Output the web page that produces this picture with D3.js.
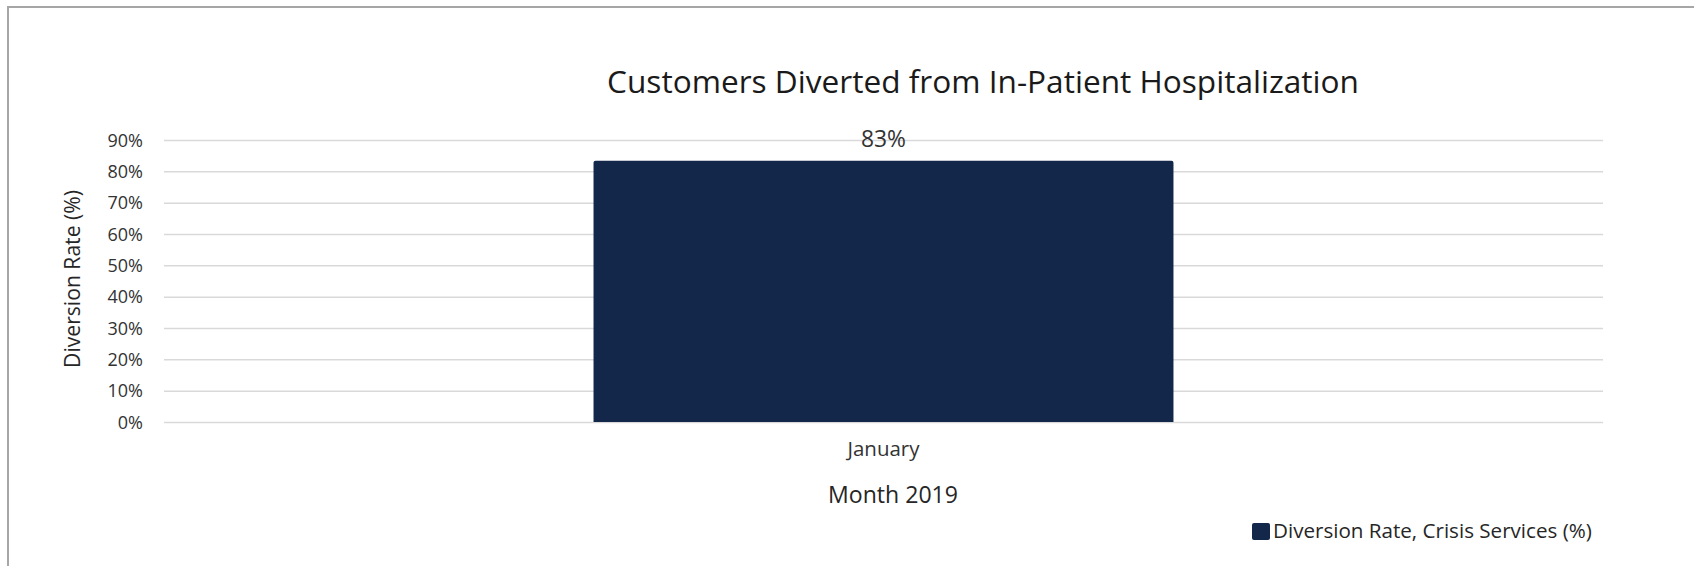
<!DOCTYPE html>
<html>
<head>
<meta charset="utf-8">
<script src="https://cdn.jsdelivr.net/npm/d3@7"></script>
<style>
  html, body { margin: 0; padding: 0; background: #fff; }
  svg text { font-family: "Open Sans", "Noto Sans", sans-serif; }
</style>
</head>
<body>
<div id="chart"></div>
<script>
/* ---------- Data ---------- */
const months = ["January"];
const diversionRate = [0.834];
const yTicks = [0, 0.1, 0.2, 0.3, 0.4, 0.5, 0.6, 0.7, 0.8, 0.9];
const seriesName = "Diversion Rate, Crisis Services (%)";

/* ---------- Layout ---------- */
const W = 1694, H = 566;
const plot = { left: 164, right: 1603, top: 140, bottom: 422 };
const barColor = "#13274a";

const svg = d3.select("#chart").append("svg")
  .attr("width", W)
  .attr("height", H);

// frame
svg.append("rect")
  .attr("x", 8).attr("y", 7)
  .attr("width", W + 20).attr("height", H + 20)
  .attr("fill", "#fff")
  .attr("stroke", "#a6a6a6")
  .attr("stroke-width", 2);

// shrink/grow a text so it spans a measured width
function fitWidth(sel, target) {
  const cur = sel.node().getComputedTextLength();
  const fs = parseFloat(sel.style("font-size"));
  sel.style("font-size", (fs * target / cur) + "px");
}

const x = d3.scaleBand()
  .domain(months)
  .range([plot.left, plot.right])
  .padding(0.4255);

const y = d3.scaleLinear()
  .domain([0, 0.9])
  .range([plot.bottom, plot.top]);

// Grid Lines + Y Axis labels
const yAxis = svg.append("g")
  .attr("transform", `translate(${plot.left},0)`)
  .call(d3.axisLeft(y)
    .tickValues(yTicks)
    .tickSize(-(plot.right - plot.left))
    .tickPadding(21)
    .tickFormat(d3.format(".0%")))
  .call(g => g.select(".domain").remove());

yAxis.selectAll(".tick line")
  .attr("stroke", "#d9d9d9")
  .attr("stroke-width", 1.5);

yAxis.selectAll(".tick text")
  .attr("fill", "#333")
  .style("font-size", "18px")
  .attr("dy", "0.34em");

// Bars
svg.selectAll(".bar")
  .data(months)
  .enter().append("path")
  .attr("class", "bar")
  .attr("fill", barColor)
  .attr("d", (d, i) => {
    const x0 = x(d), x1 = x(d) + x.bandwidth();
    const yt = y(diversionRate[i]), yb = y(0);
    const r = 2;
    return `M${x0},${yb}V${yt + r}Q${x0},${yt} ${x0 + r},${yt}H${x1 - r}Q${x1},${yt} ${x1},${yt + r}V${yb}Z`;
  });

// value labels
svg.selectAll(".bar-label")
  .data(months)
  .enter().append("text")
  .attr("class", "bar-label")
  .attr("x", d => x(d) + x.bandwidth() / 2)
  .attr("y", (d, i) => y(diversionRate[i]) - 14)
  .attr("text-anchor", "middle")
  .attr("fill", "#333")
  .style("font-size", "18px")
  .text((d, i) => d3.format(".0%")(diversionRate[i]))
  .each(function () { fitWidth(d3.select(this), 45); });

// X Axis category labels
svg.selectAll(".x-label")
  .data(months)
  .enter().append("text")
  .attr("class", "x-label")
  .attr("x", d => x(d) + x.bandwidth() / 2)
  .attr("y", 456)
  .attr("text-anchor", "middle")
  .attr("fill", "#333")
  .style("font-size", "16px")
  .text(d => d)
  .each(function () { fitWidth(d3.select(this), 72); });

// Title
svg.append("text")
  .attr("x", 983)
  .attr("y", 93)
  .attr("text-anchor", "middle")
  .attr("fill", "#1a1a1a")
  .style("font-size", "27px")
  .text("Customers Diverted from In-Patient Hospitalization")
  .call(s => fitWidth(s, 752));

// X axis title
svg.append("text")
  .attr("x", 893)
  .attr("y", 503)
  .attr("text-anchor", "middle")
  .attr("fill", "#262626")
  .style("font-size", "20px")
  .text("Month 2019")
  .call(s => fitWidth(s, 130));

// Y axis title
svg.append("text")
  .attr("transform", "translate(80,279) rotate(-90)")
  .attr("text-anchor", "middle")
  .attr("fill", "#262626")
  .style("font-size", "18px")
  .text("Diversion Rate (%)")
  .call(s => fitWidth(s, 178));

// Legend
const legend = svg.append("g")
  .attr("transform", "translate(1252,523)");

legend.append("rect")
  .attr("width", 18)
  .attr("height", 17)
  .attr("rx", 2)
  .attr("fill", barColor);

legend.append("text")
  .attr("x", 21)
  .attr("y", 15)
  .attr("fill", "#262626")
  .style("font-size", "18px")
  .text(seriesName)
  .call(s => fitWidth(s, 319));
</script>
</body>
</html>
